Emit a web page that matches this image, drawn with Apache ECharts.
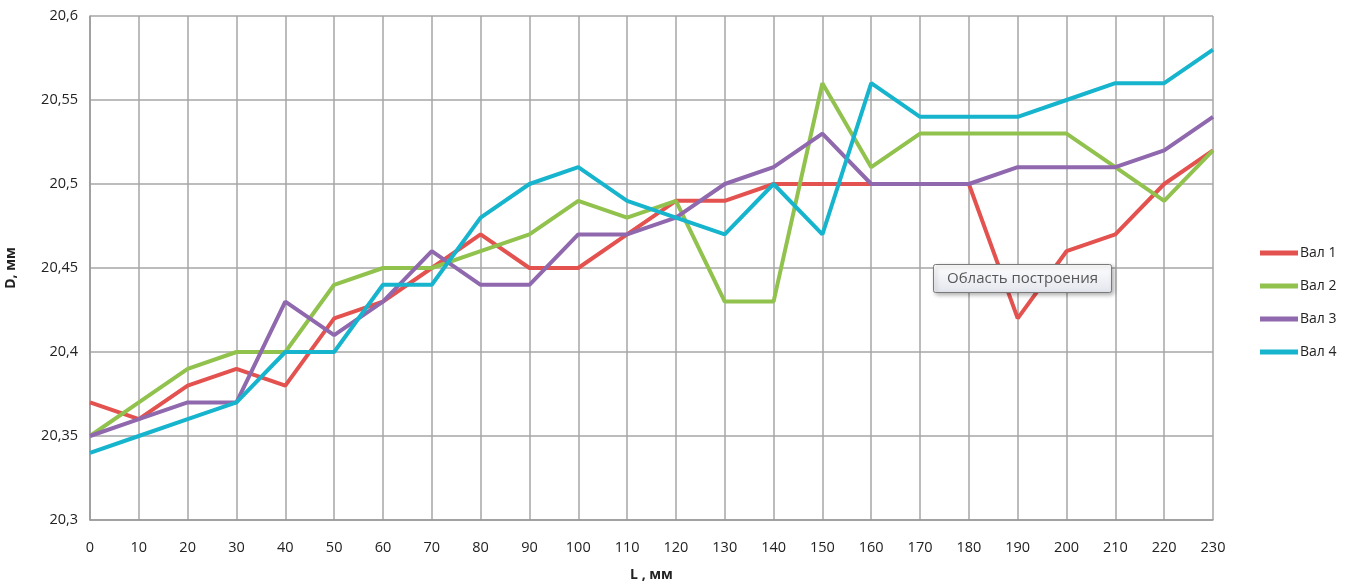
<!DOCTYPE html>
<html>
<head>
<meta charset="utf-8">
<script src="https://cdn.jsdelivr.net/npm/echarts@6/dist/echarts.min.js"></script>
<style>html,body{margin:0;padding:0;background:#fff}#c{width:1351px;height:584px}</style>
</head>
<body>
<div id="c"></div>
<script>
var categories = ['0','10','20','30','40','50','60','70','80','90','100','110','120','130','140','150','160','170','180','190','200','210','220','230'];
var val1 = [20.37,20.36,20.38,20.39,20.38,20.42,20.43,20.45,20.47,20.45,20.45,20.47,20.49,20.49,20.50,20.50,20.50,20.50,20.50,20.42,20.46,20.47,20.50,20.52];
var val2 = [20.35,20.37,20.39,20.40,20.40,20.44,20.45,20.45,20.46,20.47,20.49,20.48,20.49,20.43,20.43,20.56,20.51,20.53,20.53,20.53,20.53,20.51,20.49,20.52];
var val3 = [20.35,20.36,20.37,20.37,20.43,20.41,20.43,20.46,20.44,20.44,20.47,20.47,20.48,20.50,20.51,20.53,20.50,20.50,20.50,20.51,20.51,20.51,20.52,20.54];
var val4 = [20.34,20.35,20.36,20.37,20.40,20.40,20.44,20.44,20.48,20.50,20.51,20.49,20.48,20.47,20.50,20.47,20.56,20.54,20.54,20.54,20.55,20.56,20.56,20.58];
var seriesNames = ['Вал 1','Вал 2','Вал 3','Вал 4'];
var colors = ['#E3524F','#92C24E','#8F68AE','#17B4CD'];

var font = '"Open Sans", "Liberation Sans", sans-serif';
var chart = echarts.init(document.getElementById('c'));
var data = [val1, val2, val3, val4];
chart.setOption({
  animation: false,
  color: colors,
  grid: {left: 90, right: 138, top: 16, bottom: 64, containLabel: false, outerBoundsMode: 'none'},
  legend: {
    orient: 'vertical', left: 1255, top: 241, itemGap: 19,
    icon: 'rect', itemWidth: 38, itemHeight: 5,
    textStyle: {fontFamily: font, fontSize: 14, color: '#222', padding: [0, 0, 0, -3]},
    data: seriesNames
  },
  xAxis: {
    type: 'category', data: categories, boundaryGap: false,
    name: 'L , мм', nameLocation: 'middle', nameGap: 48,
    nameTextStyle: {fontFamily: font, fontSize: 14, fontWeight: 'bold', color: '#222'},
    axisLine: {lineStyle: {color: '#999', width: 1.5}},
    axisTick: {show: false},
    axisLabel: {fontFamily: font, fontSize: 14.5, color: '#222', margin: 20},
    splitLine: {show: true, lineStyle: {color: '#a6a6a6', width: 1.5}}
  },
  yAxis: {
    type: 'value', min: 20.3, max: 20.6, interval: 0.05,
    name: 'D, мм', nameLocation: 'middle', nameGap: 72, nameRotate: 90,
    nameTextStyle: {fontFamily: font, fontSize: 14, fontWeight: 'bold', color: '#222'},
    axisLine: {show: true, lineStyle: {color: '#999', width: 1.5}},
    axisTick: {show: false},
    axisLabel: {fontFamily: font, fontSize: 14.5, color: '#222', margin: 12,
      formatter: function (v) { return String(Math.round(v * 100) / 100).replace('.', ','); }},
    splitLine: {show: true, lineStyle: {color: '#a6a6a6', width: 1.5}}
  },
  series: data.map(function (d, i) {
    return {name: seriesNames[i], type: 'line', data: d, symbol: 'none',
      lineStyle: {width: 4, color: colors[i]}, itemStyle: {color: colors[i]}};
  }),
  graphic: [{
    type: 'group', left: 933, top: 264, z: 100, children: [
      {type: 'rect', z: 100, shape: {x: 0, y: 0, width: 178, height: 28, r: 2},
       style: {fill: new echarts.graphic.LinearGradient(0,0,0,1,[{offset:0,color:'#ffffff'},{offset:1,color:'#e4e6ee'}]),
               stroke: '#7a7a7a', lineWidth: 1, shadowBlur: 4, shadowOffsetX: 2, shadowOffsetY: 2, shadowColor: 'rgba(0,0,0,0.3)'}},
      {type: 'text', z: 101, x: 89, y: 14, style: {text: 'Область построения', fill: '#575757', font: '15px ' + font, align: 'center', verticalAlign: 'middle'}}
    ]
  }]
});
</script>
</body>
</html>
